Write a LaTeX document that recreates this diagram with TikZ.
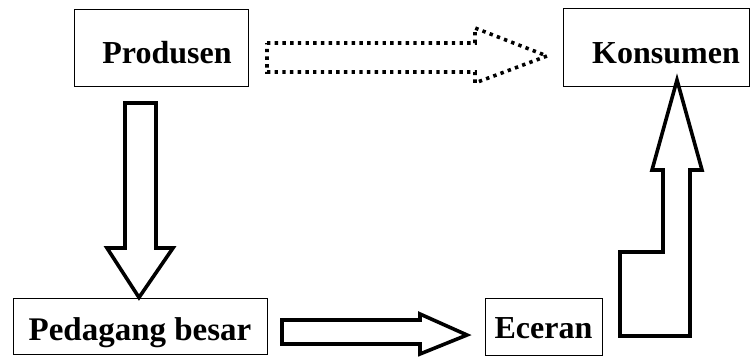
\documentclass[tikz,border=0pt]{standalone}
\usepackage{fontspec}
\setmainfont{Liberation Serif}
\begin{document}
\begin{tikzpicture}[x=1pt,y=-1pt,
  box/.style={draw,line width=1pt,inner sep=0pt,text depth=0pt,font=\bfseries\fontsize{32}{36}\selectfont},
  blockarrow/.style={draw,line width=3.6pt,line join=miter,fill=white},
  dotarrow/.style={draw,line width=3.6pt,dash pattern=on 3.4pt off 4.3pt,line join=miter}]
\useasboundingbox (0,0) rectangle (751,356);
\node[box,minimum width=174pt,minimum height=77pt,text height=31pt] (prod) at (161,48) {\hspace*{12pt}Produsen};
\node[box,minimum width=186pt,minimum height=78pt,text height=32pt] (kons) at (656.5,47) {\hspace*{19pt}Konsumen};
\node[box,minimum width=254pt,minimum height=56pt,text height=28pt,font=\bfseries\fontsize{33}{37}\selectfont] (ped) at (140,326) {Pedagang besar};
\node[box,minimum width=117pt,minimum height=57pt,text height=23pt] (ece) at (543.5,326.5) {Eceran};
% dotted arrow Produsen -> Konsumen
\draw[dotarrow] (267,43) -- (475,43) -- (475,28) -- (547,56) -- (475,83) -- (475,72) -- (267,72) -- cycle;
% Produsen -> Pedagang besar
\draw[blockarrow] (125,103) -- (156,103) -- (156,248) -- (173,248) -- (ped.north -| 139,0) -- (107,248) -- (125,248) -- cycle;
% Pedagang besar -> Eceran
\draw[blockarrow] (282,320) -- (420,320) -- (420,314) -- (467,335) -- (420,354) -- (420,344) -- (282,344) -- cycle;
% Eceran -> Konsumen
\draw[blockarrow] (620,336) -- (620,252) -- (663,252) -- (663,170) -- (652,170) -- (677,80) -- (702,170) -- (690,170) -- (690,336) -- cycle;
\end{tikzpicture}
\end{document}
